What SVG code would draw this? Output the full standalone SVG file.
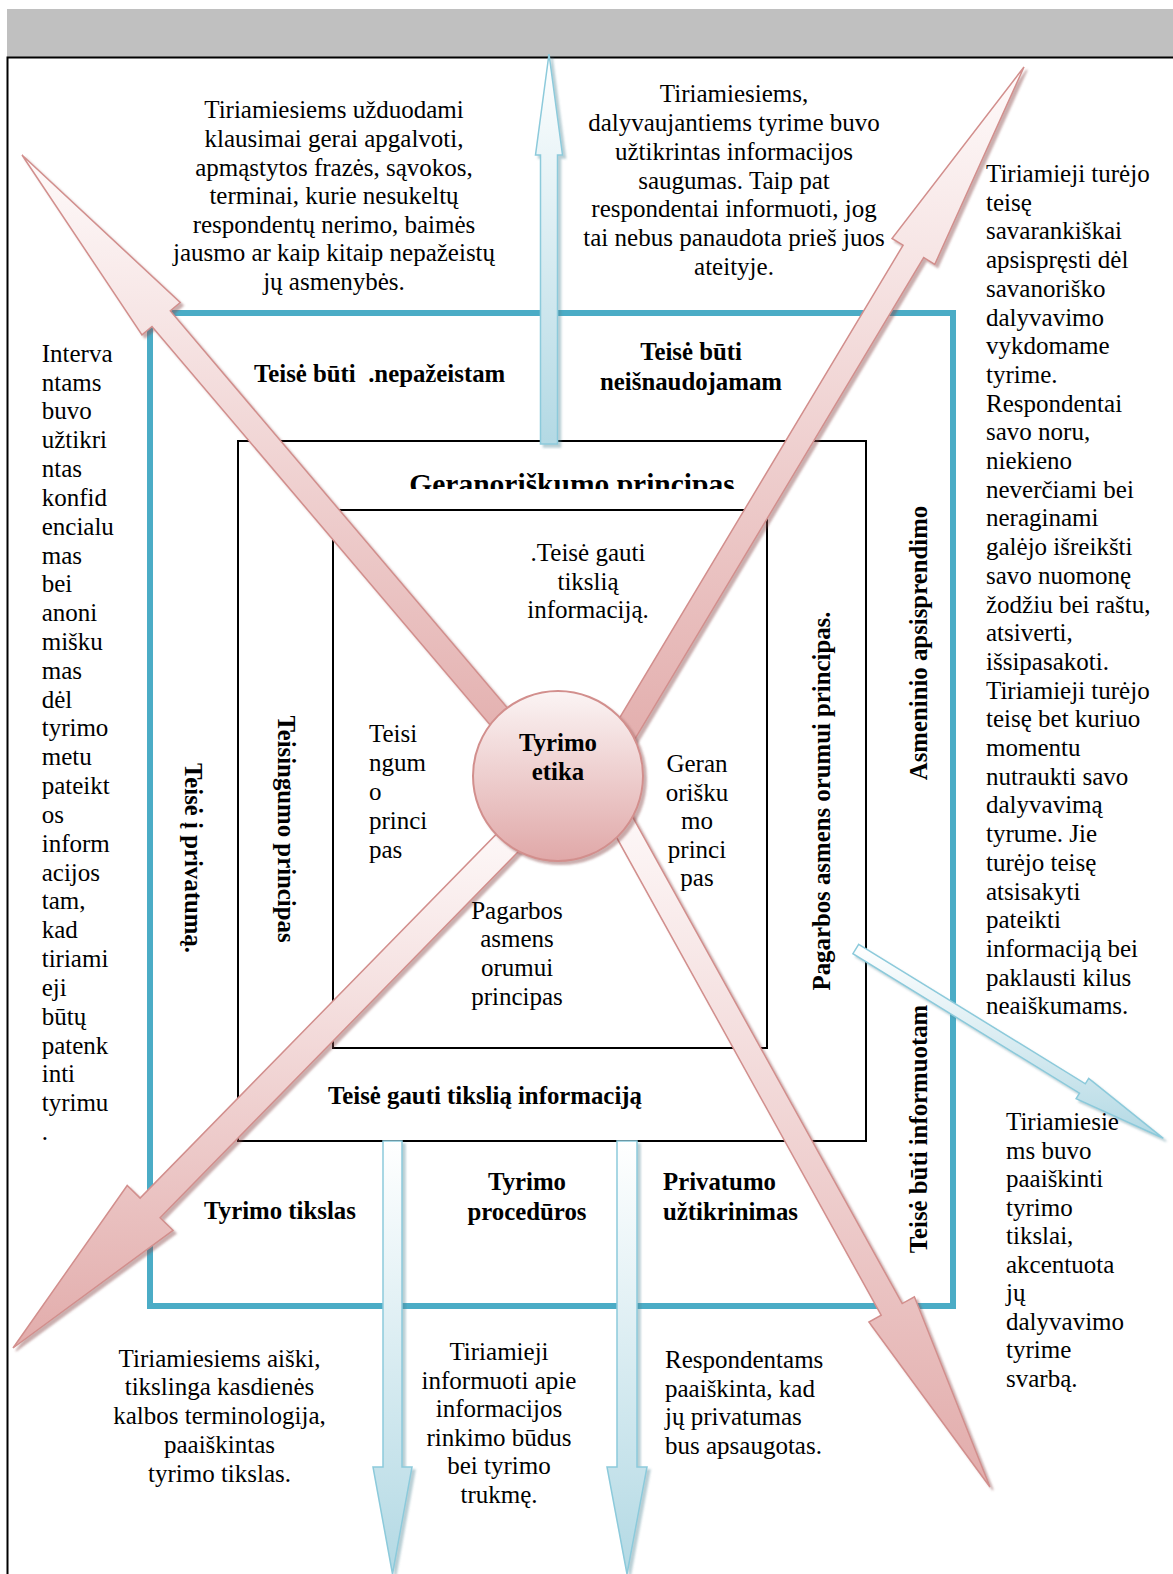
<svg xmlns="http://www.w3.org/2000/svg" width="1173" height="1574" viewBox="0 0 1173 1574">
<defs>
<linearGradient id="gPink" x1="0" y1="0" x2="0" y2="1">
<stop offset="0" stop-color="#fefafa"/>
<stop offset="1" stop-color="#e2acab"/>
</linearGradient>
<linearGradient id="gCirc" x1="0" y1="0" x2="0" y2="1">
<stop offset="0" stop-color="#fbf4f4"/>
<stop offset="1" stop-color="#e0a8a8"/>
</linearGradient>
<linearGradient id="gBlue" x1="0" y1="0" x2="0" y2="1">
<stop offset="0" stop-color="#ffffff"/>
<stop offset="1" stop-color="#b3d9e4"/>
</linearGradient>
<filter id="shP" x="-20%" y="-20%" width="140%" height="140%">
<feDropShadow dx="3" dy="3" stdDeviation="1.2" flood-color="#8a4a4a" flood-opacity="0.45"/>
</filter>
<filter id="shB" x="-20%" y="-20%" width="140%" height="140%">
<feDropShadow dx="3" dy="3" stdDeviation="1.2" flood-color="#4f8594" flood-opacity="0.4"/>
</filter>
<clipPath id="clipGer"><rect x="380" y="440" width="420" height="49"/></clipPath>
<style>
.t{font-family:"Liberation Serif","Times New Roman",serif;font-size:25px;fill:#000}
.b{font-family:"Liberation Serif","Times New Roman",serif;font-size:24.8px;font-weight:bold;fill:#000}
.c{text-anchor:middle}
.pink{fill:url(#gPink);stroke:#d28f8d;stroke-width:1.5;filter:url(#shP)}
.blue{fill:url(#gBlue);stroke:#8ccadb;stroke-width:1.5;filter:url(#shB)}
.box{fill:none;stroke:#000;stroke-width:2}
</style>
</defs>
<rect width="1173" height="1574" fill="#fff"/>
<g id="header">
<rect x="7" y="9" width="1166" height="48" fill="#c0c0c0"/>
<path d="M7.5,1574 V57.5 H1173" fill="none" stroke="#000" stroke-width="2"/>
</g>
<g id="frames">
<rect id="teal-frame" x="150" y="313" width="803" height="993" fill="none" stroke="#4bacc6" stroke-width="6"/>
<rect id="middle-box" class="box" x="238" y="441" width="628" height="700"/>
<rect id="inner-box" class="box" x="333" y="510" width="434" height="538"/>
</g>
<g id="labels">
<text class="b" x="254" y="382" xml:space="preserve">Teisė būti  .nepažeistam</text>
<text class="b c" x="691" y="360">Teisė būti</text>
<text class="b c" x="691" y="390">neišnaudojamam</text>
<g clip-path="url(#clipGer)"><text class="b c" x="572" y="494" style="font-size:29.5px">Geranoriškumo principas</text></g>
<text class="b c" x="0" y="0" transform="translate(185,858) rotate(90)">Teisė į privatumą.</text>
<text class="b c" x="0" y="0" transform="translate(277.5,829) rotate(90)">Teisingumo principas</text>
<text class="b c" x="0" y="0" transform="translate(830,801) rotate(-90)">Pagarbos asmens orumui principas.</text>
<text class="b c" x="0" y="0" transform="translate(927,643) rotate(-90)">Asmeninio apsisprendimo</text>
<text class="b c" x="0" y="0" transform="translate(927,1129) rotate(-90)">Teisė būti informuotam</text>
<text class="b c" x="485" y="1104">Teisė gauti tikslią informaciją</text>
<text class="b c" x="280" y="1219">Tyrimo tikslas</text>
<text class="b c" x="527" y="1190">Tyrimo</text>
<text class="b c" x="527" y="1220">procedūros</text>
<text class="b" x="663" y="1190">Privatumo</text>
<text class="b" x="663" y="1220">užtikrinimas</text>
</g>
<g id="connectors">
<polygon id="arrow-nw" class="pink" points="548.8,756.8 170.3,310.9 180.2,302.5 22,155 142.0,334.9 152.0,326.5 530.5,772.4"/>
<polygon id="arrow-ne" class="pink" points="617.6,767.9 923.7,257.6 934.8,264.3 1024,67 892.0,238.5 903.1,245.2 597.0,755.5"/>
<polygon id="arrow-sw" class="pink" points="533.6,836.1 160.1,1217.7 173.0,1230.3 13,1348 127.2,1185.5 140.1,1198.1 513.6,816.5"/>
<polygon id="arrow-se" class="pink" points="617.8,790.1 902.2,1303.6 914.4,1296.8 990,1487 868.9,1322.0 881.2,1315.2 596.8,801.7"/>
<polygon id="arrow-up" class="blue" points="540.5,444 540.5,155 535.5,155 549,54 562.5,155 557.5,155 557.5,444"/>
<polygon id="arrow-down1" class="blue" points="383,1141 383,1467 373,1467 392.5,1574 412,1467 402,1467 402,1141"/>
<polygon id="arrow-down2" class="blue" points="617,1141 617,1467 607,1467 627,1574 647,1467 637,1467 637,1141"/>
<polygon id="arrow-diag" class="blue" points="858.7,944.3 1085.3,1083.8 1088.7,1078.3 1163.3,1138.3 1076.1,1098.7 1079.5,1093.2 852.9,953.7"/>
</g>
<g id="center-node">
<circle cx="558" cy="776" r="85" fill="url(#gCirc)" stroke="#d28f8d" stroke-width="2" filter="url(#shP)"/>
<text class="b c" x="558" y="750.7">Tyrimo</text>
<text class="b c" x="558" y="779.5">etika</text>
</g>
<g id="inner-texts">
<text class="t c"><tspan x="588" y="561">.Teisė gauti</tspan><tspan x="588" dy="28.7">tikslią</tspan><tspan x="588" dy="28.7">informaciją.</tspan></text>
<text class="t"><tspan x="369" y="742">Teisi</tspan><tspan x="369" dy="29">ngum</tspan><tspan x="369" dy="29">o</tspan><tspan x="369" dy="29">princi</tspan><tspan x="369" dy="29">pas</tspan></text>
<text class="t c"><tspan x="697" y="772">Geran</tspan><tspan x="697" dy="28.6">orišku</tspan><tspan x="697" dy="28.6">mo</tspan><tspan x="697" dy="28.6">princi</tspan><tspan x="697" dy="28.6">pas</tspan></text>
<text class="t c"><tspan x="517" y="918.6">Pagarbos</tspan><tspan x="517" dy="28.7">asmens</tspan><tspan x="517" dy="28.7">orumui</tspan><tspan x="517" dy="28.7">principas</tspan></text>
</g>
<g id="note-top-left">
<text class="t c"><tspan x="334" y="118.3">Tiriamiesiems užduodami</tspan><tspan x="334" dy="28.6">klausimai gerai apgalvoti,</tspan><tspan x="334" dy="28.6">apmąstytos frazės, sąvokos,</tspan><tspan x="334" dy="28.6">terminai, kurie nesukeltų</tspan><tspan x="334" dy="28.6">respondentų nerimo, baimės</tspan><tspan x="334" dy="28.6">jausmo ar kaip kitaip nepažeistų</tspan><tspan x="334" dy="28.6">jų asmenybės.</tspan></text>
</g>
<g id="note-top-right">
<text class="t c"><tspan x="734" y="102">Tiriamiesiems,</tspan><tspan x="734" dy="28.85">dalyvaujantiems tyrime buvo</tspan><tspan x="734" dy="28.85">užtikrintas informacijos</tspan><tspan x="734" dy="28.85">saugumas. Taip pat</tspan><tspan x="734" dy="28.85">respondentai informuoti, jog</tspan><tspan x="734" dy="28.85">tai nebus panaudota prieš juos</tspan><tspan x="734" dy="28.85">ateityje.</tspan></text>
</g>
<g id="note-left">
<text class="t"><tspan x="41.7" y="361.7">Interva</tspan><tspan x="41.7" dy="28.83">ntams</tspan><tspan x="41.7" dy="28.83">buvo</tspan><tspan x="41.7" dy="28.83">užtikri</tspan><tspan x="41.7" dy="28.83">ntas</tspan><tspan x="41.7" dy="28.83">konfid</tspan><tspan x="41.7" dy="28.83">encialu</tspan><tspan x="41.7" dy="28.83">mas</tspan><tspan x="41.7" dy="28.83">bei</tspan><tspan x="41.7" dy="28.83">anoni</tspan><tspan x="41.7" dy="28.83">mišku</tspan><tspan x="41.7" dy="28.83">mas</tspan><tspan x="41.7" dy="28.83">dėl</tspan><tspan x="41.7" dy="28.83">tyrimo</tspan><tspan x="41.7" dy="28.83">metu</tspan><tspan x="41.7" dy="28.83">pateikt</tspan><tspan x="41.7" dy="28.83">os</tspan><tspan x="41.7" dy="28.83">inform</tspan><tspan x="41.7" dy="28.83">acijos</tspan><tspan x="41.7" dy="28.83">tam,</tspan><tspan x="41.7" dy="28.83">kad</tspan><tspan x="41.7" dy="28.83">tiriami</tspan><tspan x="41.7" dy="28.83">eji</tspan><tspan x="41.7" dy="28.83">būtų</tspan><tspan x="41.7" dy="28.83">patenk</tspan><tspan x="41.7" dy="28.83">inti</tspan><tspan x="41.7" dy="28.83">tyrimu</tspan><tspan x="41.7" dy="28.83">.</tspan></text>
</g>
<g id="note-right">
<text class="t"><tspan x="986" y="182">Tiriamieji turėjo</tspan><tspan x="986" dy="28.7">teisę</tspan><tspan x="986" dy="28.7">savarankiškai</tspan><tspan x="986" dy="28.7">apsispręsti dėl</tspan><tspan x="986" dy="28.7">savanoriško</tspan><tspan x="986" dy="28.7">dalyvavimo</tspan><tspan x="986" dy="28.7">vykdomame</tspan><tspan x="986" dy="28.7">tyrime.</tspan><tspan x="986" dy="28.7">Respondentai</tspan><tspan x="986" dy="28.7">savo noru,</tspan><tspan x="986" dy="28.7">niekieno</tspan><tspan x="986" dy="28.7">neverčiami bei</tspan><tspan x="986" dy="28.7">neraginami</tspan><tspan x="986" dy="28.7">galėjo išreikšti</tspan><tspan x="986" dy="28.7">savo nuomonę</tspan><tspan x="986" dy="28.7">žodžiu bei raštu,</tspan><tspan x="986" dy="28.7">atsiverti,</tspan><tspan x="986" dy="28.7">išsipasakoti.</tspan><tspan x="986" dy="28.7">Tiriamieji turėjo</tspan><tspan x="986" dy="28.7">teisę bet kuriuo</tspan><tspan x="986" dy="28.7">momentu</tspan><tspan x="986" dy="28.7">nutraukti savo</tspan><tspan x="986" dy="28.7">dalyvavimą</tspan><tspan x="986" dy="28.7">tyrume. Jie</tspan><tspan x="986" dy="28.7">turėjo teisę</tspan><tspan x="986" dy="28.7">atsisakyti</tspan><tspan x="986" dy="28.7">pateikti</tspan><tspan x="986" dy="28.7">informaciją bei</tspan><tspan x="986" dy="28.7">paklausti kilus</tspan><tspan x="986" dy="28.7">neaiškumams.</tspan></text>
</g>
<g id="note-bottom-right">
<text class="t"><tspan x="1006" y="1130">Tiriamiesie</tspan><tspan x="1006" dy="28.5">ms buvo</tspan><tspan x="1006" dy="28.5">paaiškinti</tspan><tspan x="1006" dy="28.5">tyrimo</tspan><tspan x="1006" dy="28.5">tikslai,</tspan><tspan x="1006" dy="28.5">akcentuota</tspan><tspan x="1006" dy="28.5">jų</tspan><tspan x="1006" dy="28.5">dalyvavimo</tspan><tspan x="1006" dy="28.5">tyrime</tspan><tspan x="1006" dy="28.5">svarbą.</tspan></text>
</g>
<g id="note-bottom-1">
<text class="t c"><tspan x="219.5" y="1366.7">Tiriamiesiems aiški,</tspan><tspan x="219.5" dy="28.75">tikslinga kasdienės</tspan><tspan x="219.5" dy="28.75">kalbos terminologija,</tspan><tspan x="219.5" dy="28.75">paaiškintas</tspan><tspan x="219.5" dy="28.75">tyrimo tikslas.</tspan></text>
</g>
<g id="note-bottom-2">
<text class="t c"><tspan x="499" y="1360">Tiriamieji</tspan><tspan x="499" dy="28.6">informuoti apie</tspan><tspan x="499" dy="28.6">informacijos</tspan><tspan x="499" dy="28.6">rinkimo būdus</tspan><tspan x="499" dy="28.6">bei tyrimo</tspan><tspan x="499" dy="28.6">trukmę.</tspan></text>
</g>
<g id="note-bottom-3">
<text class="t"><tspan x="665" y="1368">Respondentams</tspan><tspan x="665" dy="28.5">paaiškinta, kad</tspan><tspan x="665" dy="28.5">jų privatumas</tspan><tspan x="665" dy="28.5">bus apsaugotas.</tspan></text>
</g>
</svg>
